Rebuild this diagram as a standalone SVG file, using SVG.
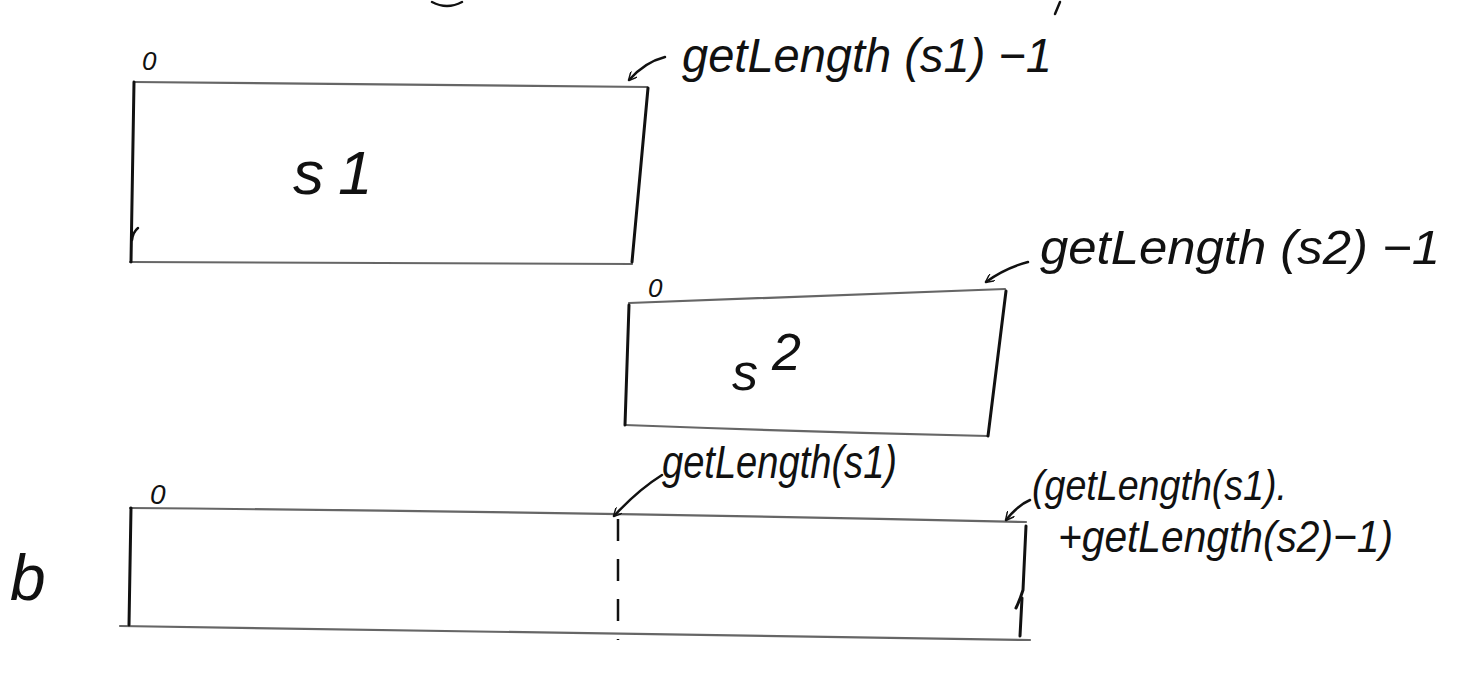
<svg xmlns="http://www.w3.org/2000/svg" width="1462" height="698" viewBox="0 0 1462 698">
<style>
.bg{fill:#fff}
.edge{stroke:#666;stroke-width:2.2;fill:none;stroke-linecap:round}
.side{stroke:#111;stroke-width:3;fill:none;stroke-linecap:round}
.dash{stroke:#111;stroke-width:2.5;fill:none;stroke-dasharray:22 18}
.arr{stroke:#111;stroke-width:2.5;fill:none;stroke-linecap:round}
.hand{font-family:"Liberation Sans","DejaVu Sans",sans-serif;font-style:italic;fill:#111;font-weight:300}
</style>
<defs>
<marker id="ah" viewBox="0 0 10 10" refX="9" refY="5" markerWidth="9" markerHeight="9" orient="auto" markerUnits="userSpaceOnUse">
<path d="M0,0 L10,5 L0,10" fill="none" stroke="#111" stroke-width="1.6"/>
</marker>
</defs>
<rect class="bg" width="1462" height="698"/>
<path d="M432,2 Q447,10 462,2" class="arr"/>
<path d="M1060,2 L1055,14" class="arr"/>
<g id="s1">
<path class="edge" d="M134,82 Q390,84 647,87"/>
<path class="edge" d="M130,262 Q380,264 632,264"/>
<path class="side" d="M134,82 L131,262"/>
<path class="side" d="M648,88 L632,262"/>
<path class="arr" d="M138,228 Q133,232 132,240"/>
<text class="hand" x="142" y="70" font-size="26">0</text>
<text class="hand" x="293" y="194" font-size="62" letter-spacing="14">s1</text>
</g>
<g id="s2">
<path class="edge" d="M629,303 Q820,296 1005,289"/>
<path class="edge" d="M625,425 Q810,432 988,436"/>
<path class="side" d="M629,305 L625,425"/>
<path class="side" d="M1006,291 L988,436"/>
<text class="hand" x="648" y="297" font-size="26">0</text>
<text class="hand" x="732" y="390" font-size="52">s<tspan dx="14" dy="-20">2</tspan></text>
</g>
<g id="b">
<path class="edge" d="M130,508 Q580,512 1026,522"/>
<path class="edge" d="M120,626 Q580,634 1030,640"/>
<path class="side" d="M131,508 L129,625"/>
<path class="dash" d="M618,519 L618,640"/>
<path class="side" d="M1026,526 L1023,590 Q1020,600 1016,608"/>
<path class="side" d="M1022,598 L1020,636"/>
<text class="hand" x="150" y="504" font-size="28">0</text>
<text class="hand" x="10" y="600" font-size="64">b</text>
</g>
<g id="connectors">
<path class="arr" d="M665,57 Q645,62 629,80" marker-end="url(#ah)"/>
<path class="arr" d="M1028,262 Q1005,268 986,282" marker-end="url(#ah)"/>
<path class="arr" d="M662,475 Q638,490 614,516" marker-end="url(#ah)"/>
<path class="arr" d="M1030,500 Q1018,505 1006,520" marker-end="url(#ah)"/>
</g>
<g id="labels">
<text class="hand" x="682" y="72" font-size="48" textLength="370" lengthAdjust="spacingAndGlyphs">getLength (s1) −1</text>
<text class="hand" x="1040" y="264" font-size="48" textLength="400" lengthAdjust="spacingAndGlyphs">getLength (s2) −1</text>
<text class="hand" x="662" y="478" font-size="46" textLength="235" lengthAdjust="spacingAndGlyphs">getLength(s1)</text>
<text class="hand" x="1032" y="500" font-size="42" textLength="255" lengthAdjust="spacingAndGlyphs">(getLength(s1).</text>
<text class="hand" x="1058" y="552" font-size="44" textLength="335" lengthAdjust="spacingAndGlyphs">+getLength(s2)−1)</text>
</g>
</svg>
